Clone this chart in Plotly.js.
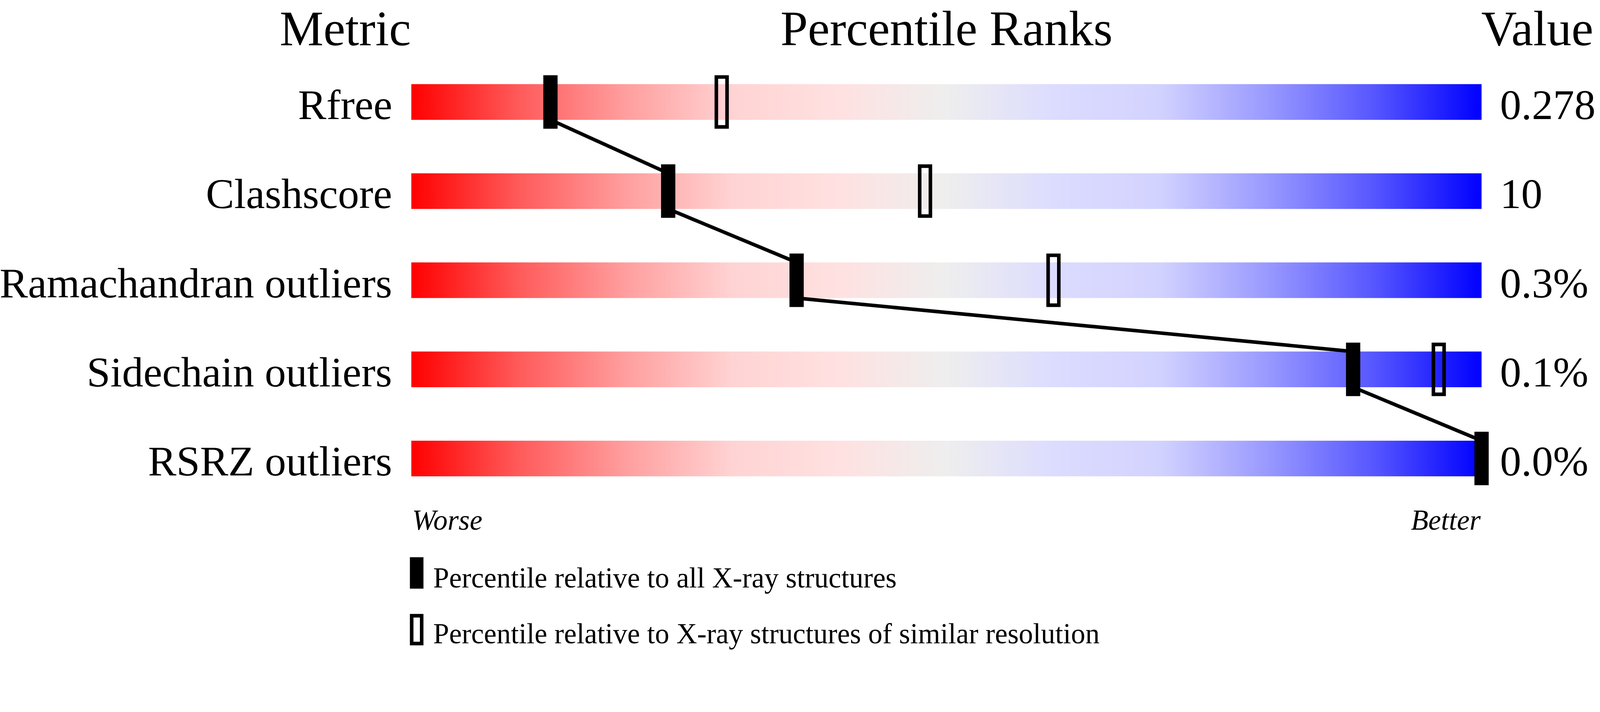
<!DOCTYPE html>
<html>
<head>
<meta charset="utf-8">
<script src="https://cdn.plot.ly/plotly-3.0.1.min.js"></script>
<style>
  html, body { margin: 0; padding: 0; background: #fff; overflow: hidden; }
</style>
</head>
<body>
<div id="plot"></div>
<script>
// chart values
const metrics = ["Rfree", "Clashscore", "Ramachandran outliers", "Sidechain outliers", "RSRZ outliers"];
const metricValues = ["0.278", "10", "0.3%", "0.1%", "0.0%"];
const pctAll = [13, 24, 36, 88, 100];        // relative to all X-ray structures
const pctSimilar = [29, 48, 60, 96, null];   // relative to similar resolution
const legendTexts = [
    "Percentile relative to all X-ray structures",
    "Percentile relative to X-ray structures of similar resolution"
];

// design size, everything below is laid out in these pixels and then scaled to the window
const W = 4485, H = 1824;
const S = Math.min(window.innerWidth / W, window.innerHeight / H) || 1;
const el = document.getElementById("plot");
el.style.width = (W * S) + "px";
el.style.height = (H * S) + "px";

const font = "Liberation Serif, Times New Roman, serif";
const barHalf = 0.2;   // in row units (1 row = 250px)

// paper helpers
const px = v => v / W;
const py = v => 1 - v / H;

// gradient bars, one closed path per row
const bx = [], by = [];
metrics.forEach((m, i) => {
    bx.push(0, 100, 100, 0, 0, null);
    by.push(i - barHalf, i - barHalf, i + barHalf, i + barHalf, i - barHalf, null);
});

const bars = {
    type: "scatter",
    mode: "lines",
    x: bx,
    y: by,
    fill: "toself",
    line: { width: 0, color: "rgba(0,0,0,0)" },
    fillgradient: {
        type: "horizontal",
        start: 0,
        stop: 100,
        colorscale: [
            [0, "#ff0000"], [0.1, "#ff5a5a"], [0.2, "#ff9e9e"], [0.3, "#ffd3d3"],
            [0.4, "#ffe1e1"], [0.5, "#eeeeee"], [0.6, "#dcdcff"], [0.7, "#d2d2ff"],
            [0.8, "#9999ff"], [0.9, "#5656ff"], [1, "#0000ff"]
        ]
    },
    hoverinfo: "skip",
    showlegend: false
};

// line from bottom of one bar to top of the next
const lx = [], ly = [];
for (let i = 0; i < pctAll.length - 1; i++) {
    lx.push(pctAll[i], pctAll[i + 1], null);
    ly.push(i + barHalf, i + 1 - barHalf, null);
}
const link = {
    type: "scatter",
    mode: "lines",
    x: lx,
    y: ly,
    line: { color: "black", width: 10 * S },
    hoverinfo: "skip",
    showlegend: false
};

function rect(xref, yref, xa, ya, hw, hh, filled) {
    return {
        type: "rect", xref: xref, yref: yref,
        xsizemode: "pixel", ysizemode: "pixel",
        xanchor: xa, yanchor: ya,
        x0: -hw * S, x1: hw * S, y0: -hh * S, y1: hh * S,
        fillcolor: filled ? "black" : "rgba(0,0,0,0)",
        line: filled ? { width: 0 } : { color: "black", width: 10 * S }
    };
}

const shapes = [];
pctAll.forEach((p, i) => shapes.push(rect("x", "y", p, i, 20, 75, true)));
pctSimilar.forEach((p, i) => {
    if (p !== null) shapes.push(rect("x", "y", p, i, 15, 70, false));
});
// legend keys
shapes.push(rect("paper", "paper", px(1168), py(1607), 19, 44, true));
shapes.push(rect("paper", "paper", px(1168), py(1766), 14, 39, false));

const annotations = [];
const headFont = { family: font, size: 138 * S, color: "black" };
const rowFont = { family: font, size: 119 * S, color: "black" };
const smallFont = { family: font, size: 80 * S, color: "black" };

function note(text, xref, x, yref, y, xanchor, f, yshift) {
    return {
        text: text, xref: xref, yref: yref, x: x, y: y,
        xanchor: xanchor, yanchor: "middle", yshift: (yshift || 0) * S,
        font: f, showarrow: false
    };
}

// headers sit as high as their text box allows
annotations.push(
    note("Metric", "paper", px(1154), "paper", py(80), "right", headFont),
    note("Percentile Ranks", "x", 50, "paper", py(80), "center", headFont),
    note("Value", "paper", px(4150), "paper", py(80), "left", headFont)
);

metrics.forEach((m, i) => {
    annotations.push(note(m, "paper", px(1102), "y", i, "right", rowFont, -8));
    annotations.push(note(metricValues[i], "paper", px(4202), "y", i, "left", rowFont, -8));
});

annotations.push(
    note("<i>Worse</i>", "x", 0, "paper", py(1459), "left", smallFont),
    note("<i>Better</i>", "x", 100, "paper", py(1459), "right", smallFont),
    note(legendTexts[0], "paper", px(1212), "paper", py(1621), "left", smallFont),
    note(legendTexts[1], "paper", px(1212), "paper", py(1777), "left", smallFont)
);

const axisOff = { showgrid: false, zeroline: false, showticklabels: false, ticks: "", showline: false, fixedrange: true };

// x axis: 30px per percentile, padded by 5 units each side so end markers are not clipped
Plotly.newPlot("plot", [bars, link], {
    width: W * S,
    height: H * S,
    margin: { l: 0, r: 0, t: 0, b: 0, pad: 0 },
    paper_bgcolor: "white",
    plot_bgcolor: "white",
    showlegend: false,
    xaxis: Object.assign({ range: [-5, 105], domain: [px(1003), px(4303)] }, axisOff),
    yaxis: Object.assign({ range: [(H - 286) / 250, -286 / 250], domain: [0, 1] }, axisOff),
    shapes: shapes,
    annotations: annotations
}, { staticPlot: true });
</script>
</body>
</html>
